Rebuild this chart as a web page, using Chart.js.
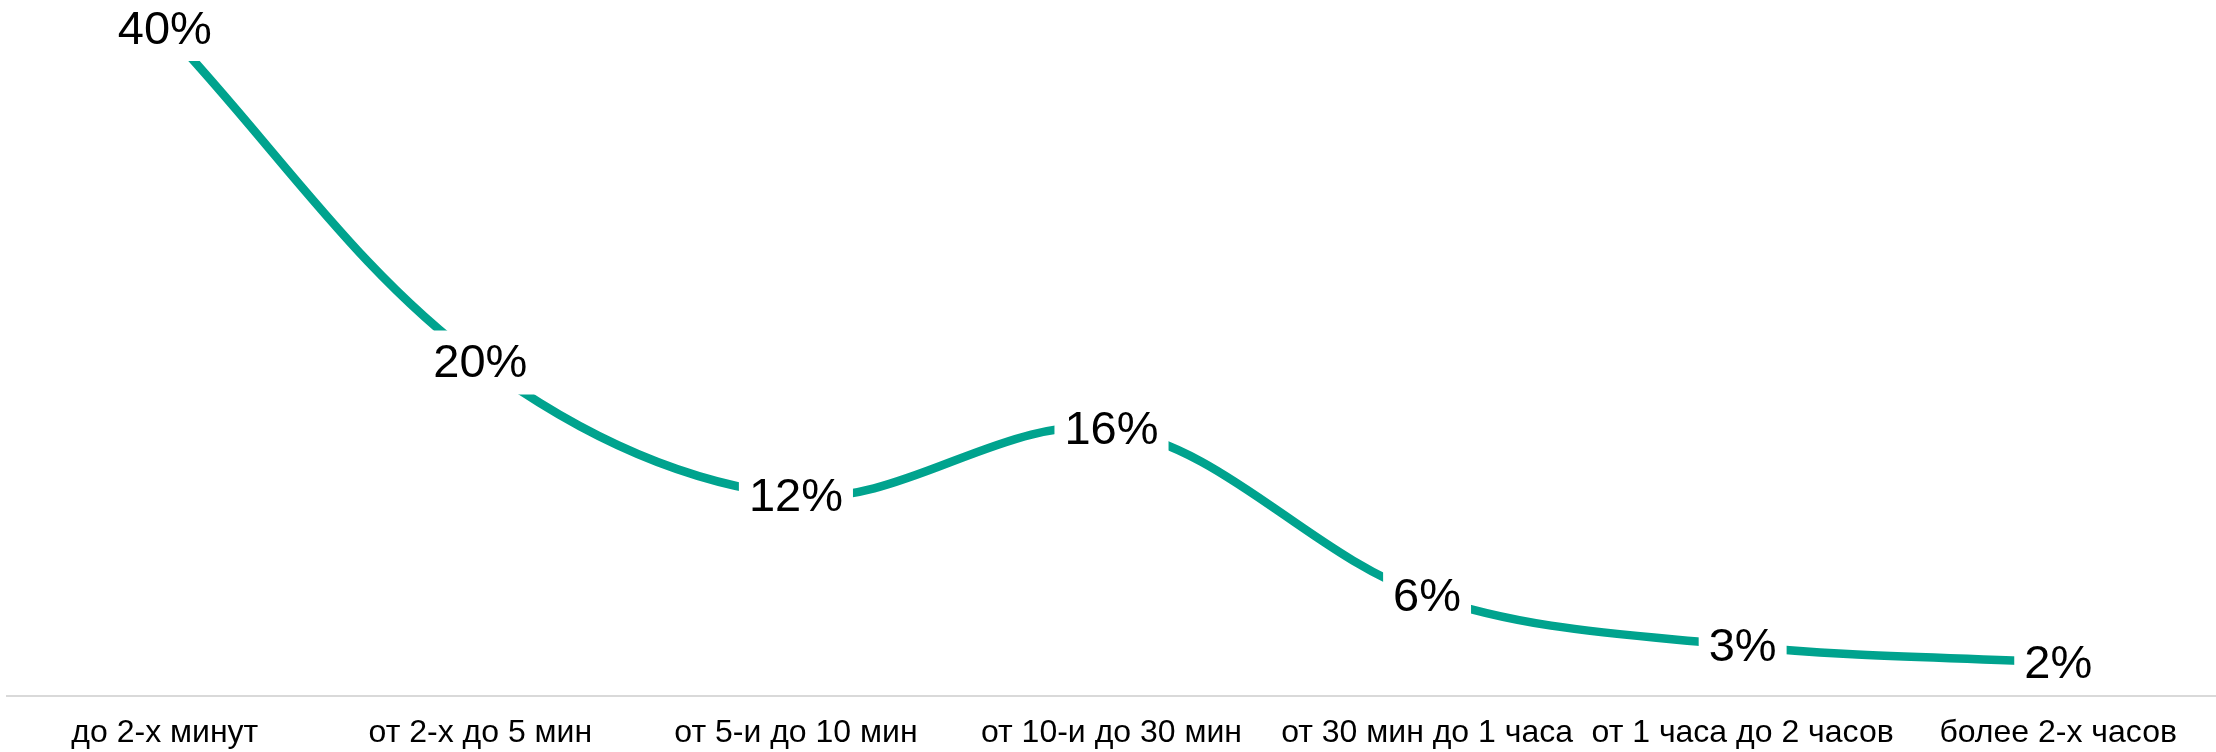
<!DOCTYPE html>
<html>
<head>
<meta charset="utf-8">
<script src="https://cdn.jsdelivr.net/npm/chart.js@4/dist/chart.umd.min.js"></script>
<style>
  html, body { margin: 0; padding: 0; background: #fff; }
  #wrap { width: 2216px; height: 752px; }
</style>
</head>
<body>
<div id="wrap"><canvas id="chart" width="2216" height="752"></canvas></div>
<script>
// время ожидания ответа
const categories = ['до 2-х минут', 'от 2-х до 5 мин', 'от 5-и до 10 мин', 'от 10-и до 30 мин', 'от 30 мин до 1 часа', 'от 1 часа до 2 часов', 'более 2-х часов'];
const shares = [40, 20, 12, 16, 6, 3, 2];

const lineColor = '#00a38e';

// подписи значений в белых плашках поверх линии
const valueLabels = {
  id: 'valueLabels',
  afterDatasetsDraw(chart) {
    const ctx = chart.ctx;
    const meta = chart.getDatasetMeta(0);
    ctx.save();
    ctx.font = '47px "Liberation Sans", Arial, sans-serif';
    ctx.textAlign = 'center';
    ctx.textBaseline = 'middle';
    meta.data.forEach((pt, i) => {
      const text = shares[i] + '%';
      const w = ctx.measureText(text).width + 20;
      const h = 64;
      ctx.fillStyle = '#fff';
      ctx.fillRect(pt.x - w / 2, pt.y - h / 2, w, h);
      ctx.fillStyle = '#000';
      ctx.fillText(text, pt.x, pt.y + 2);
    });
    ctx.restore();
  }
};

new Chart(document.getElementById('chart'), {
  type: 'line',
  data: {
    labels: categories,
    datasets: [{
      data: shares,
      borderColor: lineColor,
      borderWidth: 8.5,
      tension: 0.35,
      pointRadius: 0,
      fill: false
    }]
  },
  options: {
    responsive: false,
    animation: false,
    layout: { padding: { top: 29, left: 7, right: 0, bottom: 0 } },
    plugins: {
      legend: { display: false },
      tooltip: { enabled: false }
    },
    scales: {
      x: {
        offset: true,
        grid: { display: false, drawTicks: false },
        border: { display: true, color: '#d9d9d9', width: 2 },
        ticks: {
          color: '#000',
          padding: 18,
          maxRotation: 0,
          autoSkip: false,
          font: { family: '"Liberation Sans", Arial, sans-serif', size: 32 }
        },
        afterFit(scale) { scale.height = 56; }
      },
      y: {
        display: false,
        min: 0,
        max: 40
      }
    }
  },
  plugins: [valueLabels]
});
</script>
</body>
</html>
